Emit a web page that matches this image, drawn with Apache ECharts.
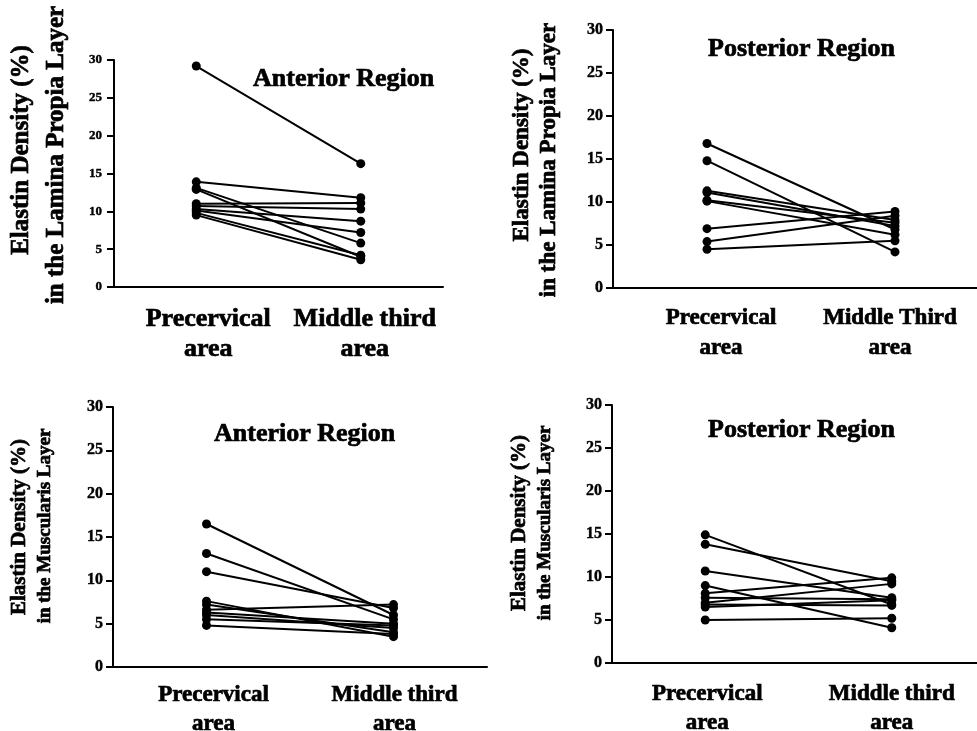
<!DOCTYPE html>
<html>
<head>
<meta charset="utf-8">
<script src="https://cdn.jsdelivr.net/npm/echarts@6/dist/echarts.min.js"></script>
<style>html,body{margin:0;padding:0;background:#fff}#c{width:977px;height:731px}</style>
</head>
<body>
<div id="c"></div>
<script>
// ---- data ----
const catsA = ['Precervical\narea', 'Middle third\narea'];
const catsB = ['Precervical\narea', 'Middle Third\narea'];
const yTicks = [0, 5, 10, 15, 20, 25, 30];

// Lamina propia, anterior
const lpAntPre = [29.2, 13.9, 13.1, 12.9, 11.0, 10.7, 10.3, 10.1, 9.8, 9.5];
const lpAntMid = [16.3, 11.8, 5.8, 4.0, 11.1, 10.3, 8.7, 7.2, 4.2, 3.6];
// Lamina propia, posterior
const lpPostPre = [16.8, 14.8, 11.3, 11.1, 10.2, 10.1, 6.9, 5.4, 4.5];
const lpPostMid = [6.8, 4.2, 7.9, 7.2, 7.6, 6.2, 8.9, 8.4, 5.5];
// Muscularis, anterior
const muAntPre = [16.5, 13.1, 11.0, 7.6, 7.2, 6.6, 6.3, 6.0, 5.5, 4.8];
const muAntMid = [6.0, 5.5, 6.8, 3.5, 4.0, 7.2, 5.0, 4.5, 4.8, 3.8];
// Muscularis, posterior
const muPostPre = [14.9, 13.8, 10.7, 9.0, 8.1, 7.6, 7.0, 6.8, 6.5, 5.0];
const muPostMid = [6.8, 9.5, 7.6, 4.1, 9.9, 7.4, 9.2, 6.7, 7.3, 5.2];

const titles = ['Anterior Region', 'Posterior Region', 'Anterior Region', 'Posterior Region'];
const yTitle1 = 'Elastin Density (%)';
const yTitleLP = 'in the Lamina Propia Layer';
const yTitleMU = 'in the Muscularis Layer';

// ---- layout ----
const FONT = '"Liberation Serif", "Times New Roman", serif';
const grids = [
  {left: 114, top: 60, width: 329, height: 227},
  {left: 613, top: 30, width: 376, height: 258},
  {left: 113, top: 407, width: 374, height: 260},
  {left: 612, top: 405, width: 373, height: 258}
].map(g => Object.assign(g, {containLabel: false, outerBoundsMode: 'none'}));
// label padding [top, right, bottom, left] per category, to nudge text off-centre like the original
const panels = [
  {pre: lpAntPre, mid: lpAntMid, cats: catsA, ySize: 13, yMargin: 12, xSize: 26, xMargin: 17, xLH: 30, pads: [[0, 0, 0, 24], [0, 0, 0, 8]]},
  {pre: lpPostPre, mid: lpPostMid, cats: catsB, ySize: 16, yMargin: 10, xSize: 23, xMargin: 15, xLH: 30, pads: [[0, 0, 0, 28], [0, 10, 0, 0]]},
  {pre: muAntPre, mid: muAntMid, cats: catsA, ySize: 16, yMargin: 10, xSize: 23, xMargin: 14, xLH: 29, pads: [[0, 0, 0, 14], [0, 0, 0, 2]]},
  {pre: muPostPre, mid: muPostMid, cats: catsA, ySize: 16, yMargin: 10, xSize: 23, xMargin: 17, xLH: 29, pads: [[0, 0, 0, 4], [0, 0, 0, 0]]}
];
const titlePos = [
  {left: 248, top: 61, size: 26},
  {left: 703, top: 31, size: 26},
  {left: 209, top: 416, size: 26},
  {left: 703, top: 412, size: 26}
];
const BORDER = 0.7;

const xAxis = [], yAxis = [], series = [];
panels.forEach((p, i) => {
  xAxis.push({
    type: 'category', gridIndex: i, boundaryGap: true,
    data: p.cats.map((c, k) => ({value: c, textStyle: {padding: p.pads[k]}})),
    axisLine: {lineStyle: {color: '#000', width: 2}},
    axisTick: {alignWithLabel: true, length: 6, lineStyle: {color: '#000', width: 2}},
    axisLabel: {interval: 0, color: '#000', fontFamily: FONT, fontWeight: 'bold',
      fontSize: p.xSize, lineHeight: p.xLH, margin: p.xMargin,
      textBorderColor: '#000', textBorderWidth: BORDER},
    splitLine: {show: false}
  });
  yAxis.push({
    type: 'value', gridIndex: i, min: yTicks[0], max: yTicks[yTicks.length - 1], interval: 5,
    axisLine: {show: true, lineStyle: {color: '#000', width: 2}},
    axisTick: {show: true, length: 7, lineStyle: {color: '#000', width: 2}},
    axisLabel: {color: '#000', fontFamily: FONT, fontWeight: 'bold', fontSize: p.ySize, margin: p.yMargin,
      textBorderColor: '#000', textBorderWidth: 0.4},
    splitLine: {show: false}
  });
  p.pre.forEach((v, j) => {
    series.push({
      type: 'line', xAxisIndex: i, yAxisIndex: i, data: [v, p.mid[j]],
      symbol: 'circle', symbolSize: 9, showSymbol: true,
      lineStyle: {color: '#000', width: 2}, itemStyle: {color: '#000'},
      silent: true, animation: false, z: 3
    });
  });
});

const title = titles.map((t, i) => ({
  text: t, left: titlePos[i].left, top: titlePos[i].top,
  textStyle: {fontFamily: FONT, fontWeight: 'bold', fontSize: titlePos[i].size, color: '#000',
    textBorderColor: '#000', textBorderWidth: BORDER}
}));

function vtext(txt, x, y, size) {
  return {type: 'text', x: x, y: y, rotation: Math.PI / 2,
    style: {text: txt, fill: '#000', font: 'bold ' + size + 'px ' + FONT,
      align: 'center', verticalAlign: 'middle', stroke: '#000', lineWidth: BORDER}};
}
const graphic = [
  vtext(yTitle1, 22, 150, 25), vtext(yTitleLP, 57, 155, 25),
  vtext(yTitle1, 522, 145, 23), vtext(yTitleLP, 549, 160, 23),
  vtext(yTitle1, 20, 527, 21), vtext(yTitleMU, 45, 526, 19),
  vtext(yTitle1, 520, 523, 21), vtext(yTitleMU, 545, 523, 19)
];

const chart = echarts.init(document.getElementById('c'), null, {renderer: 'canvas'});
chart.setOption({
  animation: false, backgroundColor: '#fff',
  title: title, grid: grids, xAxis: xAxis, yAxis: yAxis, series: series, graphic: graphic
});
</script>
</body>
</html>
